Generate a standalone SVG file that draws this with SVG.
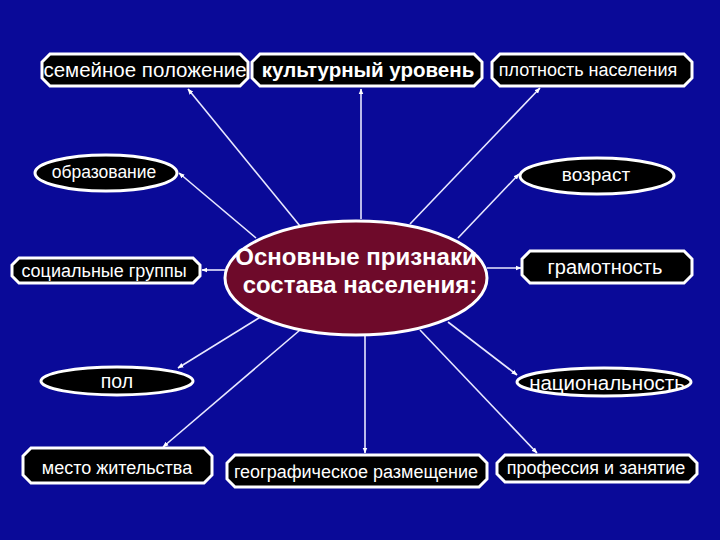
<svg xmlns="http://www.w3.org/2000/svg" width="720" height="540" viewBox="0 0 720 540">
<defs>
<marker id="ah" viewBox="0 0 10 10" refX="9" refY="5" markerWidth="6" markerHeight="6" orient="auto-start-reverse" markerUnits="userSpaceOnUse">
<path d="M0,1 L10,5 L0,9 z" fill="#ffffff"/>
</marker>
<style>
.box{fill:#000000;stroke:#ffffff;stroke-width:3}
.t{font-family:"Liberation Sans",Arial,sans-serif;fill:#ffffff;text-anchor:middle}
.c line{stroke:#e8e8ff;stroke-width:1.6;marker-end:url(#ah)}
</style>
</defs>
<rect width="720" height="540" fill="#0a0a98"/>
<g class="c" id="connectors">
<line x1="300" y1="226" x2="188" y2="89"/>
<line x1="361" y1="219" x2="361" y2="89"/>
<line x1="410" y1="224" x2="540" y2="88"/>
<line x1="256" y1="238" x2="179" y2="173"/>
<line x1="458" y1="238" x2="519" y2="174"/>
<line x1="226" y1="270" x2="202" y2="270"/>
<line x1="487" y1="268" x2="521" y2="268"/>
<line x1="262" y1="316" x2="178" y2="368"/>
<line x1="448" y1="322" x2="517" y2="375"/>
<line x1="300" y1="330" x2="163" y2="447"/>
<line x1="365" y1="335" x2="365" y2="453"/>
<line x1="420" y1="330" x2="537" y2="453"/>
</g>
<g id="n-center">
<ellipse cx="356" cy="278" rx="131" ry="57" fill="#6e0a2a" stroke="#ffffff" stroke-width="3"/>
<text class="t" x="356" y="265" font-size="24" font-weight="bold">Основные признаки</text>
<text class="t" x="360" y="293" font-size="24" font-weight="bold">состава населения:</text>
</g>
<g id="n-family">
<polygon class="box" points="50,54 240,54 248,62 248,78 240,86 50,86 42,78 42,62"/>
<text class="t" x="145" y="77" font-size="20.5">семейное положение</text>
</g>
<g id="n-culture">
<polygon class="box" points="260,54 474,54 482,62 482,78 474,86 260,86 252,78 252,62"/>
<text class="t" x="368" y="77" font-size="20.5" font-weight="bold">культурный уровень</text>
</g>
<g id="n-density">
<polygon class="box" points="500,54 684,54 692,62 692,78 684,86 500,86 492,78 492,62"/>
<text class="t" x="588" y="76" font-size="18">плотность населения</text>
</g>
<g id="n-education">
<ellipse cx="106" cy="173" rx="71" ry="18" fill="#000000" stroke="#ffffff" stroke-width="3"/>
<text class="t" x="104" y="178" font-size="17.5">образование</text>
</g>
<g id="n-age">
<ellipse cx="597" cy="176" rx="77" ry="18" fill="#000000" stroke="#ffffff" stroke-width="3"/>
<text class="t" x="596" y="181" font-size="19">возраст</text>
</g>
<g id="n-social">
<polygon class="box" points="19,258 193,258 200,265 200,276 193,283 19,283 12,276 12,265"/>
<text class="t" x="104" y="277" font-size="18">социальные группы</text>
</g>
<g id="n-literacy">
<polygon class="box" points="530,251 684,251 692,259 692,275 684,283 530,283 522,275 522,259"/>
<text class="t" x="605" y="274" font-size="20">грамотность</text>
</g>
<g id="n-sex">
<ellipse cx="117" cy="381" rx="76" ry="14" fill="#000000" stroke="#ffffff" stroke-width="3"/>
<text class="t" x="117" y="388" font-size="19.5">пол</text>
</g>
<g id="n-nationality">
<ellipse cx="604" cy="382" rx="87" ry="14" fill="#000000" stroke="#ffffff" stroke-width="3"/>
<text class="t" x="607" y="390" font-size="20.5">национальность</text>
</g>
<g id="n-residence">
<polygon class="box" points="31,448 204,448 212,456 212,475 204,483 31,483 23,475 23,456"/>
<text class="t" x="117" y="474" font-size="18">место жительства</text>
</g>
<g id="n-geo">
<polygon class="box" points="235,455 479,455 487,463 487,479 479,487 235,487 227,479 227,463"/>
<text class="t" x="356" y="478" font-size="18">географическое размещение</text>
</g>
<g id="n-profession">
<polygon class="box" points="505,455 689,455 697,463 697,474 689,482 505,482 497,474 497,463"/>
<text class="t" x="596" y="474" font-size="18">профессия и занятие</text>
</g>
</svg>
